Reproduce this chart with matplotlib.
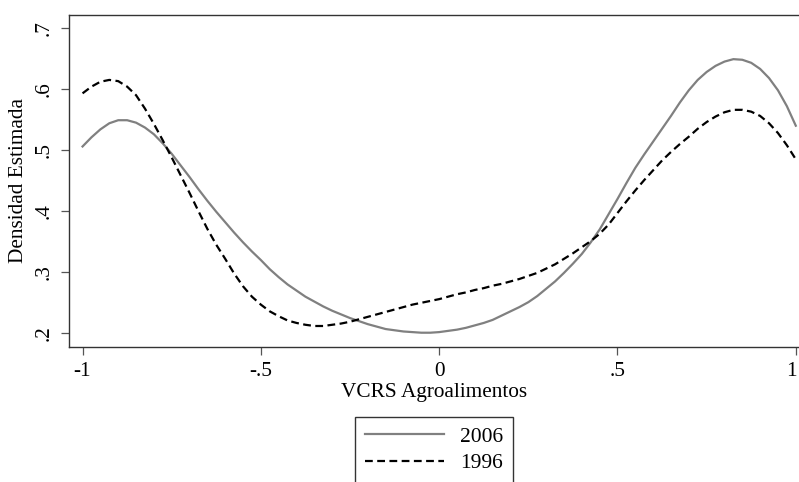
import matplotlib
matplotlib.use("Agg")
import matplotlib.pyplot as plt
import matplotlib.transforms as mtransforms
import numpy as np

# estimated densities, every 0.025 from -1 to 1
x_vals = np.linspace(-1, 1, 81)

dens_2006 = [0.506, 0.521, 0.534, 0.544, 0.549, 0.549, 0.545, 0.537, 0.526, 0.511,
             0.494, 0.475, 0.456, 0.436, 0.417, 0.399, 0.382, 0.365, 0.349, 0.334,
             0.320, 0.305, 0.292, 0.280, 0.270, 0.260, 0.252, 0.244, 0.237, 0.231,
             0.225, 0.220, 0.215, 0.211, 0.207, 0.205, 0.203, 0.202, 0.201, 0.201,
             0.202, 0.204, 0.206, 0.209, 0.213, 0.217, 0.222, 0.229, 0.236, 0.243,
             0.251, 0.261, 0.273, 0.285, 0.299, 0.314, 0.330, 0.349, 0.370, 0.395,
             0.420, 0.446, 0.471, 0.493, 0.514, 0.535, 0.556, 0.578, 0.598, 0.615,
             0.628, 0.638, 0.645, 0.649, 0.648, 0.643, 0.633, 0.618, 0.598, 0.572,
             0.540]

dens_1996 = [0.593, 0.604, 0.612, 0.615, 0.613, 0.604, 0.590, 0.568, 0.543, 0.516,
             0.488, 0.459, 0.430, 0.400, 0.371, 0.345, 0.322, 0.298, 0.277, 0.260,
             0.247, 0.236, 0.228, 0.221, 0.217, 0.214, 0.212, 0.212, 0.214, 0.216,
             0.219, 0.223, 0.227, 0.231, 0.235, 0.239, 0.243, 0.247, 0.250, 0.253,
             0.256, 0.260, 0.264, 0.267, 0.271, 0.274, 0.278, 0.281, 0.285, 0.289,
             0.294, 0.299, 0.306, 0.313, 0.322, 0.331, 0.341, 0.351, 0.363, 0.378,
             0.397, 0.416, 0.434, 0.451, 0.467, 0.483, 0.497, 0.510, 0.522, 0.535,
             0.546, 0.555, 0.562, 0.566, 0.566, 0.563, 0.556, 0.544, 0.528, 0.508,
             0.485]

x_ticks = [-1, -0.5, 0, 0.5, 1]
x_ticklabels = ["-1", "-.5", "0", ".5", "1"]
y_ticks = [0.2, 0.3, 0.4, 0.5, 0.6, 0.7]
y_ticklabels = [".2", ".3", ".4", ".5", ".6", ".7"]

plt.rcParams['font.family'] = ['Liberation Serif', 'DejaVu Serif']

fig = plt.figure(figsize=(7.99, 4.82), dpi=100)
ax = fig.add_axes([69/799, 135/482, 730/799, 332.3/482])

ax.plot(x_vals, dens_2006, color='#808080', lw=1.6, label='2006')
ax.plot(x_vals, dens_1996, color='black', lw=1.6, dashes=(3.5, 2), label='1996')

ax.set_xlim(-1.038, 1.009)
ax.set_ylim(0.1776, 0.7218)
ax.set_xticks(x_ticks)
ax.set_xticklabels(x_ticklabels)
ax.set_yticks(y_ticks)
ax.set_yticklabels(y_ticklabels, rotation=90, va='center')

ax.tick_params(axis='both', direction='out', length=6, width=0.9, color='#555555',
               labelsize=15.3, pad=5)
ax.spines['right'].set_visible(False)
for s in ['left', 'top', 'bottom']:
    ax.spines[s].set_linewidth(1.0)
    ax.spines[s].set_color('#333333')

# nudge the last x label so it stays inside the figure
last = ax.get_xticklabels()[-1]
last.set_transform(last.get_transform() +
                   mtransforms.ScaledTranslation(-3/72, 0, fig.dpi_scale_trans))

ax.set_xlabel("VCRS Agroalimentos", fontsize=15.3, labelpad=1)
ax.set_ylabel("Densidad Estimada", fontsize=15.3, labelpad=5)

leg = fig.legend(loc='upper center', bbox_to_anchor=(434/799, 1 - 417/482),
                 fontsize=15.5, frameon=True, fancybox=False, handlelength=3.7,
                 borderpad=0.45, labelspacing=0.3, handletextpad=0.75,
                 borderaxespad=0)
leg.get_frame().set_edgecolor('black')
leg.get_frame().set_linewidth(1.0)

fig.savefig("out.png", dpi=100)
